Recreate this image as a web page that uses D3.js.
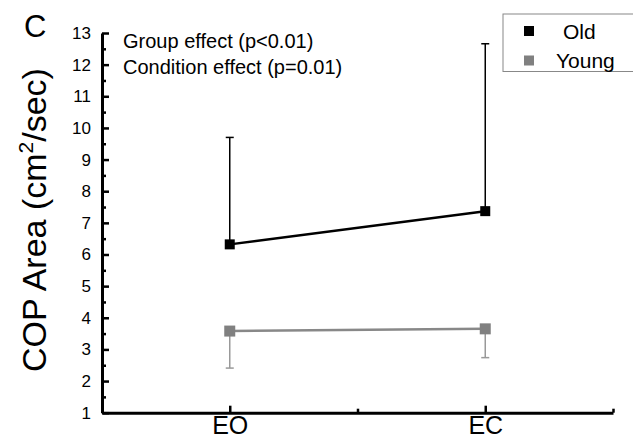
<!DOCTYPE html>
<html>
<head>
<meta charset="utf-8">
<script src="https://cdn.jsdelivr.net/npm/d3@7"></script>
<style>
  body { margin: 0; background: #fff; }
  text { font-family: "Liberation Sans", Arial, sans-serif; fill: #000; }
</style>
</head>
<body>
<svg width="633" height="438"></svg>
<script>
const conditions = ['EO', 'EC'];
const oldMeans = [6.32, 7.37];
const oldUpper = [9.70, 12.66];
const youngMeans = [3.58, 3.65];
const youngLower = [2.41, 2.74];
const yTicks = [1, 2, 3, 4, 5, 6, 7, 8, 9, 10, 11, 12, 13];
const annotations = ['Group effect (p<0.01)', 'Condition effect (p=0.01)'];

const svg = d3.select('svg');

const xScale = d3.scaleLinear().domain([0.5, 2.5]).range([102, 613]);
const yScale = d3.scaleLinear().domain([1, 13]).range([412.7, 33]);

// y axis, ticks point inward
const yAxis = svg.append('g')
    .attr('transform', 'translate(102,0)')
    .call(d3.axisLeft(yScale).tickValues(yTicks).tickSize(-7).tickSizeOuter(0).tickPadding(11));
yAxis.select('.domain').attr('stroke-width', 3);
yAxis.selectAll('.tick line').attr('stroke-width', 2.5);
yAxis.selectAll('.tick text').attr('font-size', 17).attr('font-family', null);

svg.append('g')
    .attr('transform', 'translate(102,0)')
    .call(d3.axisLeft(yScale).tickValues(d3.range(1.5, 13, 1)).tickSize(-4).tickFormat(''))
    .call(g => g.select('.domain').remove())
    .selectAll('.tick line').attr('stroke-width', 2.5);

// x axis
const xAxis = svg.append('g')
    .attr('transform', 'translate(0,412.7)')
    .call(d3.axisBottom(xScale).tickValues([1, 2]).tickFormat(d => conditions[d - 1])
        .tickSize(-7).tickSizeOuter(0).tickPadding(4));
xAxis.select('.domain').attr('stroke-width', 3);
xAxis.selectAll('.tick line').attr('stroke-width', 2.5);
xAxis.selectAll('.tick text').attr('font-size', 25).attr('font-family', null);

svg.append('g')
    .attr('transform', 'translate(0,412.7)')
    .call(d3.axisBottom(xScale).tickValues([1.5, 2.5]).tickSize(-4).tickFormat(''))
    .call(g => g.select('.domain').remove())
    .selectAll('.tick line').attr('stroke-width', 2.5);

// error bars (old: upper only, young: lower only)
function errorBars(means, ends, color) {
  const g = svg.append('g').attr('stroke', color).attr('stroke-width', 1.5);
  means.forEach((m, i) => {
    const cx = xScale(i + 1);
    g.append('line').attr('x1', cx).attr('x2', cx)
        .attr('y1', yScale(m)).attr('y2', yScale(ends[i]));
    g.append('line').attr('x1', cx - 4).attr('x2', cx + 4)
        .attr('y1', yScale(ends[i])).attr('y2', yScale(ends[i]));
  });
}
errorBars(oldMeans, oldUpper, '#000');
errorBars(youngMeans, youngLower, '#999');

const line = d3.line().x((d, i) => xScale(i + 1)).y(d => yScale(d));

svg.append('path').datum(youngMeans)
    .attr('d', line).attr('fill', 'none').attr('stroke', '#888').attr('stroke-width', 2.5);
svg.append('path').datum(oldMeans)
    .attr('d', line).attr('fill', 'none').attr('stroke', '#000').attr('stroke-width', 2.5);

svg.selectAll('rect.young').data(youngMeans).enter().append('rect')
    .attr('class', 'young')
    .attr('x', (d, i) => xScale(i + 1) - 5.5).attr('y', d => yScale(d) - 5.5)
    .attr('width', 11).attr('height', 11).attr('fill', '#808080');
svg.selectAll('rect.old').data(oldMeans).enter().append('rect')
    .attr('class', 'old')
    .attr('x', (d, i) => xScale(i + 1) - 5).attr('y', d => yScale(d) - 5)
    .attr('width', 10).attr('height', 10).attr('fill', '#000');

// y title
svg.append('text')
    .attr('transform', 'translate(46,220) rotate(-90)')
    .attr('text-anchor', 'middle')
    .attr('font-size', 34)
    .text('COP Area (cm')
    .call(t => t.append('tspan').attr('dy', -13).attr('font-size', 21).text('2'))
    .call(t => t.append('tspan').attr('dy', 13).text('/sec)'));

// panel label
svg.append('text').attr('x', 24).attr('y', 37).attr('font-size', 31).text('C');

// annotations
svg.selectAll('text.note').data(annotations).enter().append('text')
    .attr('class', 'note')
    .attr('x', 123).attr('y', (d, i) => 48 + i * 26)
    .attr('font-size', 20)
    .text(d => d);

// legend
const legend = svg.append('g');
legend.append('rect').attr('x', 503).attr('y', 14).attr('width', 140).attr('height', 57.5)
    .attr('fill', '#fff').attr('stroke', '#888').attr('stroke-width', 1);
const legendItems = [
  { name: 'Old', color: '#000', tx: 563 },
  { name: 'Young', color: '#808080', tx: 556 }
];
legendItems.forEach((d, i) => {
  const cy = 31 + i * 29.5;
  legend.append('rect').attr('x', 524).attr('y', cy - 5).attr('width', 10).attr('height', 10)
      .attr('fill', d.color);
  legend.append('text').attr('x', d.tx).attr('y', cy + 7.5).attr('font-size', 21).text(d.name);
});
</script>
</body>
</html>
